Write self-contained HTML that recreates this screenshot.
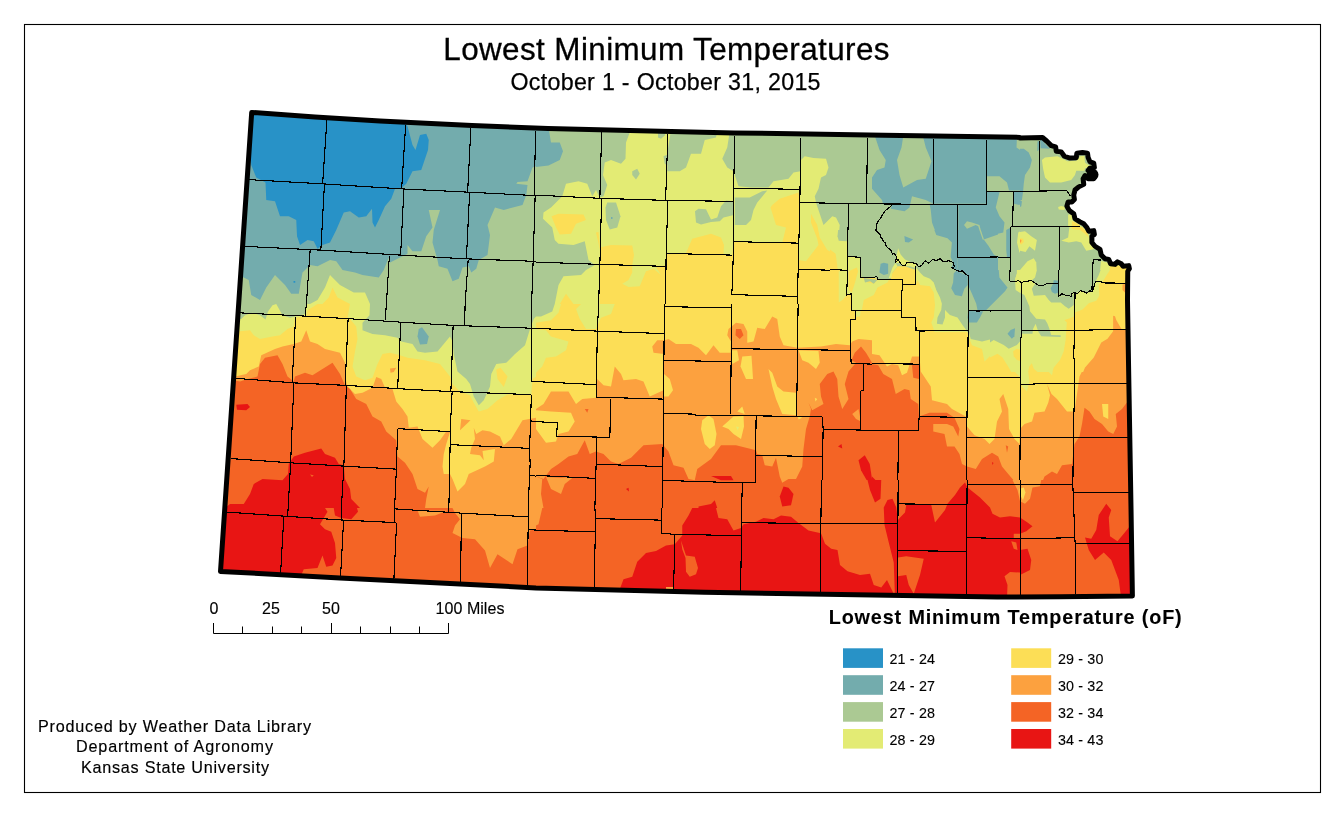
<!DOCTYPE html>
<html><head><meta charset="utf-8"><title>Lowest Minimum Temperatures</title>
<style>html,body{margin:0;padding:0;background:#fff}body{width:1344px;height:816px;overflow:hidden}svg{display:block}text{font-family:"Liberation Sans",Arial,sans-serif;fill:#000}</style>
</head><body>
<svg width="1344" height="816" viewBox="0 0 1344 816">
<rect x="0" y="0" width="1344" height="816" fill="#fff"/>
<defs><clipPath id="st"><path d="M251.7 112.4 L315 117 L380 121.1 L472 125.6 L548 128.5 L640 130.8 L734 132.9 L884 135.25 L1020 137.4 L1020 137.88 L1042.5 137.5 L1046.88 141.25 L1051.25 145.62 L1055.62 146.88 L1056.25 151.25 L1061.25 151.88 L1064.38 156.25 L1070 158.12 L1076.25 157.75 L1076.88 153.12 L1082.5 152.5 L1087.5 153.12 L1088.12 157.5 L1090 161.88 L1093.75 163.12 L1094.38 167.5 L1090 168.12 L1088.12 170.62 L1093.75 171.88 L1095 175 L1093.75 178.75 L1088.12 178.75 L1085 175.62 L1083.12 178.75 L1083.75 184.38 L1078.75 186.88 L1075 190 L1073.75 195 L1074.38 199.38 L1071.88 201.88 L1068.12 201.88 L1066.88 206.25 L1069.38 210.62 L1073.75 213.75 L1075 218.75 L1080 221.88 L1083.75 223.75 L1086.88 227.5 L1088.75 231.25 L1093.75 230.62 L1094.38 234.38 L1091.88 236.25 L1091.88 242.5 L1095 246.25 L1100 249.38 L1101.25 255 L1105 258.75 L1108.75 259.38 L1110.62 263.75 L1115 264.38 L1117.5 261.88 L1121.25 263.75 L1123.12 266.25 L1128.75 265.62 L1129.38 268.75 L1127.75 271.25 L1127.5 300 L1128.5 362 L1131 508 L1132.4 596 L1060 596.8 L997 597 L872 595 L704 592.25 L536 587.9 L340 577.9 L220.5 571.4 Z"/></clipPath>
<clipPath id="c0"><rect x="0" y="0" width="1344" height="816"/></clipPath>
<clipPath id="c1"><rect x="0" y="0" width="1344" height="816"/></clipPath>
<clipPath id="c2"><rect x="0" y="0" width="1344" height="816"/></clipPath>
<clipPath id="c3"><rect x="0" y="0" width="1344" height="816"/></clipPath>
<clipPath id="c4"><rect x="0" y="0" width="1344" height="816"/></clipPath>
<clipPath id="c5"><rect x="0" y="0" width="1344" height="816"/></clipPath>
<clipPath id="c6"><rect x="0" y="0" width="1344" height="816"/></clipPath>
<clipPath id="c7"><rect x="0" y="0" width="1344" height="816"/></clipPath>
<clipPath id="c8"><rect x="0" y="0" width="1344" height="816"/></clipPath>
<clipPath id="c9"><rect x="0" y="0" width="1344" height="816"/></clipPath>
<clipPath id="c10"><rect x="0" y="0" width="1344" height="816"/></clipPath>
<clipPath id="c11"><rect x="0" y="0" width="1344" height="832"/></clipPath>
<clipPath id="c12"><rect x="0" y="0" width="1344" height="816"/></clipPath>
</defs>
<g clip-path="url(#st)">
<g transform="translate(200 100) scale(0.25)"><g clip-path="url(#c0)">
<rect x="-2" y="-2" width="1348" height="820" fill="#73ACAD"/>
<polygon fill="#2892C7" points="200,45 822,95 830,105 850,180 862,200 880,140 905,135 915,160 912,200 885,280 850,285 825,335 808,350 780,355 765,395 740,425 715,480 700,510 690,490 688,435 665,465 635,470 600,445 575,450 545,520 520,570 490,580 470,595 455,565 430,560 400,580 388,545 385,480 355,465 320,465 300,405 265,400 262,330 225,310 205,260 190,60"/>
<polygon fill="#ABC993" points="140,700 175,710 195,720 205,780 240,800 265,750 300,700 340,740 365,775 395,775 410,690 440,660 470,665 520,640 545,645 570,680 620,690 650,700 715,710 735,680 755,630 760,650 800,630 830,615 830,580 850,605 885,605 905,545 930,510 915,440 960,440 935,520 930,570 950,640 955,665 990,675 1010,725 1035,715 1050,670 1075,665 1085,690 1105,675 1115,640 1150,620 1160,540 1150,500 1180,430 1215,440 1290,420 1305,380 1310,340 1265,335 1270,328 1310,325 1330,270 1344,265 1344,816 140,816"/>
<polygon fill="#E3EB74" points="440,816 470,800 500,750 520,700 560,740 615,770 660,770 680,816"/>
<polygon fill="#FCDE56" points="490,816 515,790 530,750 550,790 600,816"/>
<polygon fill="#2892C7" points="374,724 381,724 381,731 374,731"/>
<g transform="translate(.5 .5)" fill="none" stroke="#000" stroke-width="4.4" stroke-linejoin="round" shape-rendering="crispEdges">
<polyline points="507,80 490,335"/>
<polyline points="497,340 483,600"/>
<polyline points="822,100 806,355"/>
<polyline points="815,358 802,620"/>
<polyline points="1083,113 1070,368"/>
<polyline points="1078,372 1065,635"/>
<polyline points="1342,124 1336,382"/>
<polyline points="1340,384 1332,645"/>
<polyline points="1332,645 1326,816"/>
<polyline points="195,318 490,335 806,355 1070,368 1344,382"/>
<polyline points="178,585 483,600 802,620 1065,635 1344,645"/>
<polyline points="440,600 425,816"/>
<polyline points="757,622 745,816"/>
<polyline points="1072,640 1060,816"/>
</g>
</g></g>
<g transform="translate(536 100) scale(0.25)"><g clip-path="url(#c1)">
<rect x="-2" y="-2" width="1348" height="820" fill="#E3EB74"/>
<polygon fill="#ABC993" points="0,100 375,120 375,130 360,170 358,235 340,255 300,240 275,250 268,300 285,340 270,385 255,390 240,360 225,385 205,335 170,325 120,335 105,385 60,430 30,450 28,475 65,510 75,560 90,575 150,580 195,565 210,640 235,660 200,680 180,700 110,705 90,740 75,816 0,816"/>
<polygon fill="#73ACAD" points="0,100 50,110 60,170 95,170 108,205 95,240 50,262 0,268"/>
<polygon fill="#ABC993" points="488,125 520,125 515,142 500,155 488,150"/>
<polygon fill="#ABC993" points="510,225 527,218 527,262 515,255"/>
<polygon fill="#ABC993" points="540,120 527,200 525,285 575,285 600,270 620,215 660,215 675,160 720,150 725,125"/>
<polygon fill="#ABC993" points="775,125 765,190 745,235 765,270 790,285 800,285 800,125"/>
<polygon fill="#ABC993" points="795,125 1344,130 1344,708 1300,705 1300,630 1250,620 1245,565 1210,555 1215,500 1200,470 1185,465 1150,500 1130,440 1120,410 1115,385 1130,355 1140,310 1160,300 1170,270 1160,235 1110,232 1075,225 1060,240 1058,285 1030,290 1010,315 950,325 930,350 860,350 810,345 795,300"/>
<polygon fill="#ABC993" points="795,390 855,390 905,365 925,362 885,410 870,440 860,480 840,500 795,500"/>
<polygon fill="#ABC993" points="636,445 650,435 680,437 700,478 725,470 740,425 760,402 792,405 792,460 750,470 735,485 700,488 660,498 640,490"/>
<polygon fill="#ABC993" points="385,285 405,275 415,295 400,318 385,300"/>
<polygon fill="#ABC993" points="285,410 320,410 338,465 325,510 295,518 280,480 278,430"/>
<polygon fill="#73ACAD" points="300,468 306,468 306,476 300,476"/>
<polygon fill="#FCDE56" points="62,465 90,455 190,458 200,480 160,495 140,535 95,538 80,510"/>
<polygon fill="#FCDE56" points="945,420 975,395 1050,370 1056,410 1050,570 985,570 1000,510 960,500 938,430"/>
<polygon fill="#FCDE56" points="95,816 120,775 150,816"/>
<polygon fill="#FCDE56" points="240,530 250,528 256,590 300,580 385,582 392,620 385,660 440,668 500,665 520,660 520,615 600,612 625,555 700,535 740,550 752,580 750,615 785,620 790,568 1050,572 1050,640 1080,645 1130,580 1125,555 1100,490 1100,455 1125,500 1135,550 1165,600 1200,620 1210,675 1245,680 1250,740 1275,700 1290,670 1280,720 1262,770 1262,816 255,816 256,600"/>
<polygon fill="#E3EB74" points="385,660 440,668 480,668 500,700 470,675 440,685 415,745 370,748 345,735 370,720 385,690"/>
<g transform="translate(.5 .5)" fill="none" stroke="#000" stroke-width="4.4" stroke-linejoin="round" shape-rendering="crispEdges">
<polyline points="262,128 255,390"/>
<polyline points="262,395 255,655"/>
<polyline points="255,660 250,816"/>
<polyline points="527,137 518,400"/>
<polyline points="527,403 520,615 518,816"/>
<polyline points="795,145 790,350 790,565 785,740 782,780"/>
<polyline points="1058,150 1055,410 1048,680 1045,816"/>
<polyline points="1325,152 1322,415"/>
<polyline points="1250,417 1245,625 1245,680 1242,780 1262,775 1262,816"/>
<polyline points="1300,630 1298,708 1344,708"/>
<polyline points="0,380 262,393 518,401 790,405"/>
<polyline points="790,352 1055,357"/>
<polyline points="1055,410 1344,415"/>
<polyline points="0,648 255,657 520,665"/>
<polyline points="520,613 785,620"/>
<polyline points="788,566 1050,572"/>
<polyline points="1050,677 1245,682"/>
<polyline points="1245,625 1300,630"/>
<polyline points="785,778 1045,785"/>
</g>
</g></g>
<g transform="translate(872 100) scale(0.25)"><g clip-path="url(#c2)">
<rect x="-2" y="-2" width="1348" height="820" fill="#ABC993"/>
<polygon fill="#73ACAD" points="245,140 458,140 458,415 245,415"/>
<polygon fill="#73ACAD" points="458,140 580,145 578,190 600,205 615,195 635,235 625,280 605,305 605,362 548,362 540,330 510,305 458,305"/>
<polygon fill="#73ACAD" points="668,150 700,160 725,195 670,195"/>
<polygon fill="#73ACAD" points="565,364 605,364 600,400 590,420 568,415"/>
<polygon fill="#73ACAD" points="458,368 510,368 495,430 510,465 530,490 525,530 460,545 445,560 430,500 400,490 380,485 368,500 380,515 415,500 425,505 440,555 490,615 510,628 345,628 345,418 458,418"/>
<polygon fill="#73ACAD" points="537,520 555,510 553,628 540,628 537,600"/>
<polygon fill="#73ACAD" points="230,415 342,418 342,630 320,640 318,600 300,570 285,540 255,530 240,490 235,440"/>
<polygon fill="#73ACAD" points="345,628 500,630 495,680 515,730 535,750 500,780 450,816 415,816 385,760 385,700 345,680"/>
<polygon fill="#73ACAD" points="340,690 380,700 385,760 360,785 320,770 320,740"/>
<polygon fill="#73ACAD" points="10,140 125,145 118,190 100,240 110,300 125,350 180,320 215,315 238,245 215,190 205,150 245,150 245,415 215,400 160,385 150,430 130,445 75,435 80,418 45,418 40,400 0,355 0,310 20,280 50,270 55,240 30,200"/>
<polygon fill="#73ACAD" points="130,545 165,555 135,572"/>
<polygon fill="#73ACAD" points="35,655 60,650 65,690 35,700 28,680"/>
<polygon fill="#73ACAD" points="720,720 745,722 745,775 722,770"/>
<polygon fill="#E3EB74" points="680,235 700,225 760,222 800,245 850,250 880,270 850,290 820,280 800,320 760,330 710,325 685,290"/>
<polygon fill="#E3EB74" points="790,460 830,500 860,520 880,560 910,620 880,600 850,600 830,565 790,570 760,560 790,540 800,505 780,480"/>
<polygon fill="#FCDE56" points="745,425 770,425 775,440 750,440"/>
<polygon fill="#FCDE56" points="795,478 835,502 800,502"/>
<polygon fill="#E3EB74" points="585,530 600,520 630,535 655,560 650,600 620,595 590,610 580,570"/>
<polygon fill="#FCDE56" points="592,550 605,545 610,570 595,578"/>
<polygon fill="#E3EB74" points="620,650 640,635 658,640 660,700 640,730 600,725 570,700 590,685"/>
<polygon fill="#E3EB74" points="915,640 945,650 1030,670 1030,816 812,816 815,785 850,775 885,760 900,720 918,690"/>
<polygon fill="#FCDE56" points="950,650 1025,670 1025,816 905,816 900,770 895,730 940,700"/>
<polygon fill="#FCA13F" points="1000,735 1020,735 1020,780 1000,775"/>
<polygon fill="#E3EB74" points="570,725 600,720 640,740 700,745 720,775 780,780 808,790 808,816 600,816 598,730"/>
<polygon fill="#FCDE56" points="610,770 640,760 650,816 620,816"/>
<polygon fill="#ABC993" points="640,745 700,745 725,780 760,790 760,816 680,816 650,770"/>
<polygon fill="#E3EB74" points="65,700 90,640 100,610 120,630 175,650 200,700 245,725 300,816 0,816 0,705"/>
<polygon fill="#FCDE56" points="75,690 95,650 110,640 170,660 172,735 240,745 270,790 280,816 0,816 0,715 50,715"/>
<g transform="translate(.5 .5)" fill="none" stroke="#000" stroke-width="4.4" stroke-linejoin="round" shape-rendering="crispEdges">
<polyline points="245,155 245,415"/>
<polyline points="458,158 458,415"/>
<polyline points="668,165 668,362"/>
<polyline points="0,415 458,418"/>
<polyline points="458,365 780,362 795,380"/>
<polyline points="565,368 562,505"/>
<polyline points="555,507 840,507"/>
<polyline points="555,507 552,725"/>
<polyline points="342,420 342,630 553,628"/>
<polyline points="748,507 745,780"/>
<polyline points="385,700 385,816"/>
<polyline points="598,725 598,816"/>
<polyline points="808,780 808,816"/>
<polyline points="880,640 875,760"/>
<polyline points="880,640 915,640"/>
<polyline points="895,730 1015,735"/>
<polyline points="120,715 118,816"/>
<polyline points="0,715 120,717"/>
<polyline points="120,737 172,737 175,660"/>
<polyline points="80,420 65,432 50,445 35,470 20,490 15,520 25,540 40,560 55,585 70,600 80,615 95,625 100,650 115,648 130,660 150,650 175,655 195,665 205,650 215,645 228,650 240,640 255,645 270,635 285,645 300,640 315,642 325,650 330,670 340,675 350,685 365,688 385,700"/>
<polyline points="552,725 575,720 600,722 620,730 640,728 660,738 680,740 700,735 720,735 745,735"/>
<polyline points="745,780 770,772 790,775 810,768 830,770 850,762 875,760 885,745 895,730"/>
</g>
</g></g>
<g transform="translate(200 304) scale(0.25)"><g clip-path="url(#c3)">
<rect x="-2" y="-2" width="1348" height="820" fill="#ABC993"/>
<polygon fill="#E3EB74" points="100,65 165,60 180,45 210,35 240,45 262,62 272,30 290,5 305,0 315,18 330,45 360,55 400,45 420,40 425,0 680,0 678,45 650,75 650,105 690,120 740,125 790,135 805,150 850,160 870,190 900,195 950,190 975,160 1000,130 1010,150 1015,200 1030,270 1065,300 1080,320 1095,370 1115,405 1135,385 1160,330 1165,280 1185,240 1225,235 1260,200 1300,165 1320,100 1335,60 1344,50 1344,816 100,816"/>
<polygon fill="#FCDE56" points="100,112 150,110 200,105 215,125 240,140 290,130 320,125 350,100 375,90 380,55 425,48 430,25 470,0 600,0 590,55 600,60 625,90 630,140 620,190 610,250 625,290 660,305 690,295 710,240 730,200 760,195 800,205 830,215 900,225 960,240 1000,290 1010,320 1040,350 1080,365 1095,395 1115,430 1150,420 1190,385 1230,362 1325,362 1330,300 1344,290 1344,816 100,816"/>
<polygon fill="#FCDE56" points="1185,262 1202,255 1230,290 1215,332 1190,300"/>
<polygon fill="#FCA13F" points="100,292 140,290 185,280 200,265 235,250 245,205 300,180 330,170 375,160 405,150 425,105 440,150 470,160 500,180 560,195 580,235 582,300 590,330 620,360 650,355 690,335 705,292 725,300 740,335 770,340 785,390 810,420 830,450 835,495 870,490 890,540 930,575 960,545 985,510 1000,512 985,560 975,600 970,650 975,680 1000,680 1010,700 1030,750 1060,720 1075,680 1140,650 1175,630 1180,580 1215,565 1245,540 1290,465 1344,455 1344,816 100,816"/>
<polygon fill="#FCA13F" points="1095,495 1105,520 1130,505 1160,510 1200,530 1215,565 1180,580 1130,588 1135,625 1120,605 1080,600 1085,575 1100,540"/>
<polygon fill="#FCA13F" points="760,258 785,255 775,272 762,275"/>
<polygon fill="#FCA13F" points="1045,460 1082,465 1040,505"/>
<polygon fill="#F46425" points="100,305 135,305 160,310 190,300 230,290 240,240 260,215 310,205 330,240 350,290 375,310 380,290 420,275 450,285 490,260 530,235 560,280 580,325 600,340 625,380 665,400 690,450 725,470 745,510 785,545 790,610 820,635 850,680 870,740 900,755 915,730 905,780 900,816 100,816"/>
<polygon fill="#E81514" points="355,640 375,610 420,595 485,578 500,600 540,615 555,640 575,645 580,700 600,740 605,780 640,816 100,816 120,800 175,800 200,760 215,720 250,700 330,705 352,680"/>
<polygon fill="#E81514" points="145,403 190,400 200,412 185,425 148,423"/>
<polygon fill="#F46425" points="440,682 455,685 448,692"/>
<polygon fill="#73ACAD" points="875,100 888,93 915,130 908,160 880,162 870,130"/>
<g transform="translate(.5 .5)" fill="none" stroke="#000" stroke-width="4.4" stroke-linejoin="round" shape-rendering="crispEdges">
<polyline points="160,35 420,48 590,58 800,72 1010,85 1344,97"/>
<polyline points="145,297 375,315 585,325 790,338 1005,350 1325,362"/>
<polyline points="125,618 365,635 575,648 785,660"/>
<polyline points="790,498 1000,510"/>
<polyline points="1000,562 1320,577"/>
<polyline points="425,0 420,48"/>
<polyline points="745,0 740,65"/>
<polyline points="1060,0 1058,85"/>
<polyline points="382,50 368,315"/>
<polyline points="592,58 580,325"/>
<polyline points="803,72 790,338"/>
<polyline points="1012,85 1003,350"/>
<polyline points="375,315 362,635"/>
<polyline points="585,325 575,648"/>
<polyline points="790,498 785,660"/>
<polyline points="1008,350 1000,510 1000,562 995,816"/>
<polyline points="1326,0 1325,97 1325,310 1344,310"/>
<polyline points="1325,365 1318,577 1320,640"/>
<polyline points="1322,467 1344,470"/>
<polyline points="1317,685 1344,688"/>
<polyline points="362,635 352,816"/>
<polyline points="575,648 565,816"/>
<polyline points="785,660 778,816"/>
<polyline points="1320,640 1312,816"/>
</g>
</g></g>
<g transform="translate(536 304) scale(0.25)"><g clip-path="url(#c4)">
<rect x="-2" y="-2" width="1348" height="820" fill="#FCDE56"/>
<polygon fill="#E3EB74" points="0,0 100,0 90,35 60,65 30,70 0,75"/>
<polygon fill="#ABC993" points="0,0 75,0 65,30 20,50 0,50"/>
<polygon fill="#E3EB74" points="180,0 315,0 300,40 260,55 240,100 200,100 175,60 160,20"/>
<polygon fill="#E3EB74" points="0,100 40,105 60,130 130,150 120,185 80,210 40,215 25,250 0,275"/>
<polygon fill="#FCA13F" points="0,420 30,400 60,350 130,350 160,400 185,380 240,375 245,300 270,325 300,330 315,250 340,280 350,305 400,300 430,310 455,370 510,345 512,200 470,195 465,170 485,145 515,145 530,140 560,160 620,160 650,175 680,205 710,165 735,195 778,195 780,150 765,125 770,100 800,75 830,80 845,110 845,155 870,150 885,95 915,100 945,50 965,60 975,130 990,165 1045,175 1140,170 1200,160 1255,165 1265,150 1290,140 1344,145 1344,816 0,816"/>
<polygon fill="#FCDE56" points="0,425 60,430 140,435 155,470 130,510 90,520 80,550 40,555 0,500"/>
<polygon fill="#FCDE56" points="512,280 535,300 548,345 530,370 512,370"/>
<polygon fill="#FCDE56" points="825,210 862,207 868,300 840,300 818,250"/>
<polygon fill="#FCDE56" points="780,185 805,185 812,225 785,240"/>
<polygon fill="#FCDE56" points="930,260 945,275 965,330 990,350 1040,355 1040,445 985,440 960,380 945,330"/>
<polygon fill="#FCDE56" points="1050,185 1130,188 1135,235 1120,260 1090,235 1065,225"/>
<polygon fill="#FCDE56" points="665,465 690,445 710,460 722,520 715,565 695,580 675,560 660,500"/>
<polygon fill="#FCDE56" points="745,490 790,450 830,448 832,490 820,540 790,520 770,500"/>
<polygon fill="#E3EB74" points="800,490 812,492 806,505"/>
<polygon fill="#FCDE56" points="805,430 825,410 835,440"/>
<polygon fill="#FCA13F" points="905,605 950,608 945,640 920,650"/>
<polygon fill="#FCDE56" points="1045,445 1065,455 1050,462"/>
<polygon fill="#FCDE56" points="1115,375 1125,380 1118,390"/>
<polygon fill="#F46425" points="0,690 30,700 60,660 90,640 130,610 165,600 195,545 215,600 240,590 270,600 300,630 330,640 380,615 430,565 505,560 530,590 550,645 590,655 610,700 635,705 645,660 700,620 740,565 800,565 880,585 885,600 905,605 915,645 945,650 960,615 975,690 985,715 1010,700 1040,700 1065,650 1070,580 1080,500 1095,450 1100,420 1090,395 1105,425 1150,400 1140,370 1135,320 1165,280 1190,270 1205,300 1210,370 1225,420 1250,380 1235,320 1250,270 1280,235 1262,225 1275,195 1300,170 1320,195 1344,235 1344,816 0,816"/>
<polygon fill="#FCA13F" points="40,692 60,740 100,760 115,720 150,692 100,695"/>
<polygon fill="#FCA13F" points="0,690 25,700 20,760 30,816 0,816"/>
<polygon fill="#FCA13F" points="1265,440 1290,420 1300,470 1280,460"/>
<polygon fill="#E81514" points="700,688 780,688 790,705 740,705"/>
<polygon fill="#E81514" points="975,770 990,730 1010,735 1030,760 1020,805 985,810"/>
<polygon fill="#E81514" points="1290,625 1315,605 1335,640 1344,700 1344,740 1320,700 1300,665"/>
<polygon fill="#E81514" points="1208,570 1222,560 1225,578"/>
<polygon fill="#E81514" points="360,740 370,735 372,750"/>
<polygon fill="#E81514" points="650,810 700,800 715,785 725,816 650,816"/>
<polygon fill="#F46425" points="800,100 820,100 830,125 815,140 798,125"/>
<polygon fill="#F46425" points="195,420 210,420 205,435"/>
<g transform="translate(.5 .5)" fill="none" stroke="#000" stroke-width="4.4" stroke-linejoin="round" shape-rendering="crispEdges">
<polyline points="0,97 245,108 512,118"/>
<polyline points="0,310 240,322"/>
<polyline points="240,372 510,380"/>
<polyline points="250,0 245,108 240,372"/>
<polyline points="515,0 512,118 510,380 505,816"/>
<polyline points="515,10 780,15"/>
<polyline points="782,0 778,440"/>
<polyline points="512,225 778,230"/>
<polyline points="510,437 635,440 640,447 880,447 1145,450"/>
<polyline points="780,178 1045,182 1258,185"/>
<polyline points="1048,0 1042,447"/>
<polyline points="1265,0 1265,25 1344,22"/>
<polyline points="1278,25 1275,60 1258,62 1258,185 1260,237 1344,240"/>
<polyline points="1310,240 1308,345 1298,348 1298,503"/>
<polyline points="1145,450 1148,500 1344,505"/>
<polyline points="1148,500 1143,816"/>
<polyline points="880,447 878,605 1145,610"/>
<polyline points="878,605 878,712"/>
<polyline points="505,705 825,715 878,712"/>
<polyline points="825,715 822,816"/>
<polyline points="0,470 85,475 82,528 295,533 298,380"/>
<polyline points="240,535 240,640 505,650"/>
<polyline points="240,640 235,816"/>
<polyline points="0,685 235,697"/>
</g>
</g></g>
<g transform="translate(872 304) scale(0.25)"><g clip-path="url(#c5)">
<rect x="-2" y="-2" width="1348" height="820" fill="#FCDE56"/>
<polygon fill="#E3EB74" points="240,0 245,60 260,80 290,60 300,90 380,100 385,130 400,165 440,180 450,230 480,200 510,200 540,240 560,260 590,290 600,330 620,350 630,310 625,270 640,235 665,260 700,265 720,285 730,240 760,185 775,120 775,60 810,50 815,30 860,0"/>
<polygon fill="#ABC993" points="275,0 300,30 340,40 360,80 385,105 395,140 440,150 480,140 510,150 540,170 570,175 590,140 600,102 650,92 700,127 755,127 710,112 690,72 655,62 650,32 640,0"/>
<polygon fill="#ABC993" points="760,0 805,0 795,15 770,12"/>
<polygon fill="#73ACAD" points="385,50 430,45 440,20 470,10 480,0 420,0 415,25 385,30"/>
<polygon fill="#73ACAD" points="545,110 570,95 572,125 555,140"/>
<polygon fill="#73ACAD" points="690,119 755,123 755,131 690,128"/>
<polygon fill="#FCA13F" points="0,200 30,205 50,235 60,250 80,240 105,245 120,285 140,275 160,210 190,210 195,270 235,330 240,385 300,400 320,420 375,450 380,490 410,525 450,540 470,560 490,540 500,470 520,430 510,380 525,360 545,420 548,500 570,540 590,560 592,500 610,480 640,470 650,435 690,430 705,395 712,365 700,320 718,360 740,380 780,430 810,430 830,290 850,250 900,220 910,180 930,150 960,130 975,105 965,60 980,65 1005,95 1030,100 1040,816 0,816"/>
<polygon fill="#FCDE56" points="920,400 945,400 945,460 925,450"/>
<polygon fill="#FCDE56" points="595,735 610,730 612,775 598,780"/>
<polygon fill="#F46425" points="0,240 25,245 45,280 80,300 95,360 130,340 150,345 155,380 185,400 188,450 230,435 300,435 330,455 350,500 345,530 325,490 300,480 245,480 245,510 290,520 300,570 330,570 350,600 360,640 380,650 415,660 440,620 480,595 505,610 520,650 545,680 575,715 590,720 680,715 690,690 720,670 740,680 760,645 800,640 810,560 830,530 840,480 850,415 870,430 890,460 920,480 945,510 965,520 980,490 975,440 1000,420 1030,380 1040,816 0,816"/>
<polygon fill="#F46425" points="160,245 188,240 188,300 165,295"/>
<polygon fill="#F46425" points="535,565 545,570 540,595"/>
<polygon fill="#E81514" points="480,632 486,636 482,644"/>
<polygon fill="#E81514" points="0,690 20,710 35,750 30,790 60,780 85,790 90,816 0,816"/>
<polygon fill="#E81514" points="140,795 190,800 240,790 300,780 330,750 350,715 380,740 420,775 460,800 475,816 100,816 105,798"/>
<polygon fill="#E81514" points="930,805 945,798 960,816 925,816"/>
<g transform="translate(.5 .5)" fill="none" stroke="#000" stroke-width="4.4" stroke-linejoin="round" shape-rendering="crispEdges">
<polyline points="0,22 118,25 118,52 175,55 178,105 385,103"/>
<polyline points="118,0 118,25"/>
<polyline points="385,0 385,25 598,25"/>
<polyline points="385,25 382,295 378,535 378,816"/>
<polyline points="598,0 598,105 1015,100"/>
<polyline points="598,105 592,320 592,535 590,816"/>
<polyline points="810,0 808,100 810,318 805,535 802,816"/>
<polyline points="382,293 592,293"/>
<polyline points="595,322 680,318 1020,318"/>
<polyline points="190,105 188,450 378,453"/>
<polyline points="0,238 188,240"/>
<polyline points="0,505 185,505 188,450"/>
<polyline points="105,508 102,816"/>
<polyline points="378,535 1022,535"/>
<polyline points="378,722 800,720"/>
<polyline points="805,757 1025,752"/>
<polyline points="102,798 378,802"/>
</g>
</g></g>
<g transform="translate(200 508) scale(0.25)"><g clip-path="url(#c6)">
<rect x="-2" y="-2" width="1348" height="820" fill="#F46425"/>
<polygon fill="#E81514" points="60,0 500,0 510,15 480,65 500,85 525,95 540,140 545,200 530,230 505,235 490,190 470,240 415,245 400,280 60,260"/>
<polygon fill="#E81514" points="535,0 540,30 565,40 605,45 632,15 628,0"/>
<polygon fill="#FCA13F" points="870,10 990,10 940,30 880,35"/>
<polygon fill="#FCA13F" points="1010,0 1344,0 1344,85 1320,90 1310,150 1270,165 1250,225 1190,185 1160,240 1140,170 1100,125 1050,120 1010,100 1020,70 1040,45 1020,20"/>
<g transform="translate(.5 .5)" fill="none" stroke="#000" stroke-width="4.4" stroke-linejoin="round" shape-rendering="crispEdges">
<polyline points="95,15 335,32 575,48 785,58"/>
<polyline points="352,0 350,33"/>
<polyline points="335,32 322,258"/>
<polyline points="566,0 565,47"/>
<polyline points="574,48 562,270"/>
<polyline points="779,0 778,57"/>
<polyline points="786,58 775,285"/>
<polyline points="778,3 1045,20 1314,35"/>
<polyline points="995,0 995,15"/>
<polyline points="1045,20 1042,300"/>
<polyline points="1313,0 1314,35 1312,85 1308,320"/>
<polyline points="1312,85 1344,88"/>
</g>
</g></g>
<g transform="translate(536 508) scale(0.25)"><g clip-path="url(#c7)">
<rect x="-2" y="-2" width="1348" height="820" fill="#F46425"/>
<polygon fill="#FCA13F" points="0,0 25,0 10,65 0,70"/>
<polygon fill="#E81514" points="335,325 350,285 385,275 405,215 440,180 480,172 520,150 555,145 585,110 585,70 610,30 625,0 720,0 730,40 765,45 790,90 820,80 830,65 880,55 910,40 950,45 980,30 1020,35 1050,60 1090,90 1135,100 1155,125 1165,160 1210,155 1220,230 1250,245 1310,255 1344,270 1344,360 335,360"/>
<polygon fill="#F46425" points="580,130 600,190 635,195 648,240 640,265 615,275 600,255 598,200 585,165"/>
<polygon fill="#FCA13F" points="520,316 548,316 548,326 520,324"/>
<g transform="translate(.5 .5)" fill="none" stroke="#000" stroke-width="4.4" stroke-linejoin="round" shape-rendering="crispEdges">
<polyline points="0,88 235,95"/>
<polyline points="235,0 238,42 232,318"/>
<polyline points="238,42 500,48"/>
<polyline points="500,0 500,100 555,105 550,325"/>
<polyline points="555,105 820,110"/>
<polyline points="822,0 822,58 818,330"/>
<polyline points="822,58 1143,62 1344,62"/>
<polyline points="1143,0 1143,62 1138,335"/>
</g>
</g></g>
<g transform="translate(820 480) scale(0.25)"><g clip-path="url(#c8)">
<rect x="-2" y="-2" width="1348" height="820" fill="#F46425"/>
<polygon fill="#E81514" points="190,0 245,0 242,75 220,90 200,40"/>
<polygon fill="#E81514" points="0,215 5,215 20,255 45,275 70,280 80,340 110,365 160,380 200,375 215,420 245,430 268,400 290,445 300,470 0,470"/>
<polygon fill="#E81514" points="255,110 270,80 290,75 305,110 312,170 312,470 300,470 295,330 275,250 258,180"/>
<polygon fill="#E81514" points="312,160 320,150 340,130 345,100 445,100 460,170 500,120 510,95 540,60 560,30 580,10 590,30 640,70 680,110 690,135 720,150 760,145 800,150 830,170 850,185 825,205 800,215 775,215 775,235 800,232 800,280 830,275 845,320 840,360 800,380 800,370 760,368 738,385 750,420 748,475 312,475"/>
<polygon fill="#F46425" points="312,310 345,305 415,315 400,380 375,455 355,420 345,380 312,385"/>
<polygon fill="#F46425" points="765,245 785,250 790,280 775,275"/>
<polygon fill="#E81514" points="1060,230 1085,235 1105,200 1115,140 1145,95 1165,120 1155,150 1160,225 1190,245 1215,215 1235,190 1260,190 1260,475 1205,475 1195,400 1165,320 1135,290 1100,320 1075,280"/>
<polygon fill="#FCA13F" points="770,0 885,0 880,25 850,30 840,75 820,95 800,85 790,40"/>
<polygon fill="#FCDE56" points="798,35 815,30 822,50 812,80 800,60"/>
<g transform="translate(.5 .5)" fill="none" stroke="#000" stroke-width="4.4" stroke-linejoin="round" shape-rendering="crispEdges">
<polyline points="0,175 310,175"/>
<polyline points="5,0 0,455"/>
<polyline points="312,0 310,460"/>
<polyline points="312,95 585,98"/>
<polyline points="312,282 585,285"/>
<polyline points="588,0 585,460"/>
<polyline points="588,18 800,18 1010,18"/>
<polyline points="800,0 800,460"/>
<polyline points="588,230 800,235 1020,230"/>
<polyline points="1010,0 1012,50 1235,48"/>
<polyline points="1012,50 1020,255 1022,455"/>
<polyline points="1020,255 1240,252"/>
</g>
</g></g>
<g transform="translate(830 230) scale(0.125)"><g clip-path="url(#c9)">
<rect x="-2" y="-2" width="1348" height="820" fill="#ABC993"/>
<polygon fill="#E3EB74" points="0,0 140,0 140,330 0,330"/>
<polygon fill="#ABC993" points="65,0 135,0 135,90 70,85 60,50"/>
<polygon fill="#FCDE56" points="0,155 45,190 60,300 65,330 0,330"/>
<polygon fill="#FCDE56" points="0,318 140,322 135,520 172,510 172,642 205,645 205,715 165,718 165,816 0,816"/>
<polygon fill="#E3EB74" points="70,330 138,325 135,520 100,560 70,580"/>
<polygon fill="#FCDE56" points="245,378 355,380 380,395 580,395 580,435 688,435 688,816 165,816 165,718 205,715 205,645 172,642 172,510 140,515 140,212 245,218"/>
<polygon fill="#E3EB74" points="143,214 245,220 250,380 300,420 350,430 380,400 470,400 460,420 380,460 350,520 270,560 255,640 175,640 172,510 138,520 140,320"/>
<polygon fill="#FCDE56" points="150,330 215,300 225,330 200,420 175,500 150,480"/>
<polygon fill="#E3EB74" points="205,650 245,650 240,690 210,695"/>
<polygon fill="#ABC993" points="270,383 380,398 350,430 320,410 280,420"/>
<polygon fill="#FCDE56" points="500,340 540,290 600,290 688,320 688,437 580,437 580,397 490,397 485,370"/>
<polygon fill="#E3EB74" points="480,355 500,300 525,262 540,290 500,340 490,382 470,385"/>
<polygon fill="#E3EB74" points="545,145 565,195 600,235 650,258 690,272 688,305 640,290 600,290 560,265 525,262 530,215"/>
<polygon fill="#73ACAD" points="405,270 430,262 465,270 465,350 430,360 395,340"/>
<polygon fill="#73ACAD" points="595,48 665,75 630,100 600,95"/>
<polygon fill="#73ACAD" points="835,0 1020,0 1020,330 1010,320 975,295 985,260 965,215 975,100 940,65 850,40"/>
<polygon fill="#73ACAD" points="1020,0 1344,0 1344,560 1290,600 1250,640 1180,640 1170,590 1140,520 1105,440 1105,365 1080,350 1045,335 1020,325"/>
<polygon fill="#ABC993" points="1230,75 1344,35 1344,215 1310,195 1270,130"/>
<polygon fill="#ABC993" points="1195,0 1207,0 1232,75 1222,78"/>
<polygon fill="#73ACAD" points="1105,648 1225,650 1200,700 1175,740 1110,740 1100,700"/>
<polygon fill="#73ACAD" points="990,345 1010,325 1102,365 1102,440 1075,470 1055,530 1000,520 970,465 985,420"/>
<polygon fill="#E3EB74" points="688,300 720,340 750,370 800,390 830,420 850,480 880,540 895,590 890,640 860,700 855,750 900,755 920,700 920,640 960,680 1020,700 1060,760 1090,800 1100,816 688,816"/>
<polygon fill="#FCDE56" points="575,435 688,435 700,400 720,440 800,450 830,500 840,600 830,700 810,740 830,795 835,816 688,816 688,700 572,698"/>
<g transform="translate(.5 .5)" fill="none" stroke="#000" stroke-width="8.8" stroke-linejoin="round" shape-rendering="crispEdges">
<polyline points="140,0 140,320 135,460 132,520 170,510 172,640 205,645 205,715 165,718 165,816"/>
<polyline points="0,315 135,322"/>
<polyline points="145,212 245,218 245,378 355,380 365,372 375,372 380,395 580,395 580,435 685,435 685,290"/>
<polyline points="580,435 572,520 572,640 172,642"/>
<polyline points="572,640 572,698 685,700 688,805 715,808 1105,800"/>
<polyline points="365,0 395,30 405,45 400,55 420,70 425,90 440,100 445,120 460,140 475,150 490,165 500,195 510,185 530,210 525,260 545,235 560,262 575,280 600,285 615,260 650,258 690,270 710,295 735,280 760,245 790,265 820,235 850,245 880,230 910,255 950,245 985,260 995,295 970,300 1010,320 1045,335 1055,325 1080,350 1105,365 1105,816"/>
<polyline points="1020,0 1020,220 1344,215"/>
<polyline points="1105,640 1180,648 1344,640"/>
</g>
</g></g>
<g transform="translate(1020 125) scale(0.125)"><g clip-path="url(#c10)">
<rect x="-2" y="-2" width="1348" height="820" fill="#ABC993"/>
<polygon fill="#73ACAD" points="0,190 30,190 70,220 95,280 80,340 40,400 30,470 25,530 10,640 0,660"/>
<polygon fill="#73ACAD" points="140,130 155,130 150,200 138,210"/>
<polygon fill="#73ACAD" points="160,100 200,150 240,190 165,185"/>
<polygon fill="#E3EB74" points="175,280 200,260 300,250 340,270 380,290 450,285 480,250 515,245 520,300 545,320 575,330 540,340 520,345 515,365 450,365 440,400 410,440 330,460 240,460 200,420 185,350"/>
<polygon fill="#E3EB74" points="305,655 330,648 360,655 355,680 310,675"/>
<polygon fill="#E3EB74" points="385,715 420,720 420,816 385,816"/>
<polygon fill="#FCDE56" points="415,770 440,775 480,800 480,816 415,816"/>
<g transform="translate(.5 .5)" fill="none" stroke="#000" stroke-width="8.8" stroke-linejoin="round" shape-rendering="crispEdges">
<polyline points="155,125 155,528"/>
<polyline points="0,530 155,528 375,525 405,570"/>
<polyline points="185,525 185,535"/>
</g>
</g></g>
<g transform="translate(1020 200) scale(0.125)"><g clip-path="url(#c11)">
<rect x="-2" y="-2" width="1348" height="836" fill="#ABC993"/>
<polygon fill="#73ACAD" points="0,0 15,10 10,50 0,55"/>
<polygon fill="#E3EB74" points="305,55 330,48 360,55 355,80 310,75"/>
<polygon fill="#E3EB74" points="385,115 420,120 420,160 450,190 500,215 535,250 555,290 560,350 600,390 560,400 530,405 490,340 450,330 390,340 330,325 385,300 395,215 385,210"/>
<polygon fill="#FCDE56" points="415,170 440,175 480,200 480,210 415,210"/>
<polygon fill="#FCDE56" points="415,215 500,218 535,260 550,300 520,270 480,240 415,230"/>
<polygon fill="#E3EB74" points="0,255 40,250 90,290 135,320 120,405 75,370 45,415 0,405"/>
<polygon fill="#FCDE56" points="0,305 25,310 30,335 10,355 0,350"/>
<polygon fill="#FCA13F" points="0,315 12,320 8,340 0,340"/>
<polygon fill="#E3EB74" points="0,560 60,490 110,465 130,500 135,580 110,640 60,650 0,660"/>
<polygon fill="#73ACAD" points="265,645 300,640 305,670 335,690 320,730 305,750 270,745 245,710"/>
<polygon fill="#E3EB74" points="648,488 700,500 870,540 870,832 440,832 440,755 480,745 540,750 580,720 600,660 625,620 640,570"/>
<polygon fill="#FCDE56" points="720,530 790,525 870,550 870,832 635,832 640,700 660,640 680,610 715,580"/>
<polygon fill="#FCA13F" points="820,675 845,670 845,750 820,720"/>
<polygon fill="#E3EB74" points="0,650 60,645 100,670 90,720 105,760 200,770 240,832 0,832"/>
<polygon fill="#FCDE56" points="20,832 15,760 40,780 50,832"/>
<polygon fill="#E3EB74" points="200,770 310,775 310,832 200,832"/>
<g transform="translate(.5 .5)" fill="none" stroke="#000" stroke-width="8.8" stroke-linejoin="round" shape-rendering="crispEdges">
<polyline points="0,210 310,212 480,210"/>
<polyline points="315,215 318,560 308,570 308,770"/>
<polyline points="585,480 580,560 572,700"/>
<polyline points="585,478 650,480"/>
<polyline points="0,655 30,650 60,640 90,650 120,670 150,685 190,680 215,668 300,665"/>
<polyline points="308,745 340,750 370,760 400,770 410,745 435,742 440,832"/>
<polyline points="440,745 470,730 500,725 520,740 550,735 570,720 590,690 600,660 620,645 650,650 680,662 840,665"/>
<polyline points="0,650 15,655 15,832"/>
</g>
</g></g>
<g transform="translate(990 270) scale(0.125)"><g clip-path="url(#c12)">
<rect x="-2" y="-2" width="1348" height="820" fill="#E3EB74"/>
<polygon fill="#ABC993" points="0,0 250,0 250,560 215,600 150,630 110,600 30,560 0,580"/>
<polygon fill="#73ACAD" points="0,0 70,0 75,60 140,140 120,170 70,220 0,290"/>
<polygon fill="#E3EB74" points="250,0 215,30 200,75 205,160 245,185 250,85"/>
<polygon fill="#E3EB74" points="215,0 375,0 360,60 330,85 250,90 200,75 215,30"/>
<polygon fill="#73ACAD" points="140,510 165,480 200,465 195,530 175,550"/>
<polygon fill="#FCDE56" points="0,700 60,670 100,700 150,780 170,816 0,816"/>
<polygon fill="#FCDE56" points="185,650 215,630 250,640 250,730 215,720 190,690"/>
<polygon fill="#ABC993" points="375,0 545,0 545,210 640,215 670,190 670,280 630,310 600,290 565,260 490,260 470,240 440,200 350,205 335,150 360,110 330,85 360,60"/>
<polygon fill="#73ACAD" points="485,145 505,110 510,80 545,85 548,110 575,130 565,165 548,180 520,190 495,175"/>
<polygon fill="#ABC993" points="255,190 275,200 315,290 320,330 370,390 440,395 460,430 475,470 490,520 565,522 565,535 410,530 385,490 365,430 345,470 340,510 255,510"/>
<polygon fill="#FCDE56" points="595,400 640,385 675,370 675,480 610,480 615,420"/>
<polygon fill="#FCDE56" points="610,480 675,480 675,816 500,816 510,780 560,720 590,650 605,560"/>
<polygon fill="#FCDE56" points="305,816 315,770 335,745 350,790 380,816"/>
<polygon fill="#ABC993" points="545,0 885,0 870,40 850,80 830,120 820,170 790,180 760,185 735,165 700,175 690,195 670,190 660,180 640,215 545,210"/>
<polygon fill="#FCDE56" points="960,0 1120,0 1120,816 745,816 760,780 830,700 860,640 890,580 940,550 985,490 985,480 675,480 678,340 740,315 790,265 850,245 875,205 870,115 900,95 930,45"/>
<polygon fill="#FCDE56" points="670,478 990,478 990,490 940,550 890,580 860,640 830,700 760,780 745,816 670,816"/>
<polygon fill="#FCA13F" points="985,365 1000,370 1010,400 1050,470 1085,475 1120,470 1120,816 745,816 760,780 830,700 860,640 890,580 940,550 985,490"/>
<polygon fill="#FCA13F" points="1060,115 1090,110 1090,190 1060,160"/>
<g transform="translate(.5 .5)" fill="none" stroke="#000" stroke-width="8.8" stroke-linejoin="round" shape-rendering="crispEdges">
<polyline points="160,0 155,80 165,95 200,90 230,85 250,100 285,90 330,85 360,105 390,122 430,120 455,108 545,105"/>
<polyline points="250,100 255,480 245,560 242,816"/>
<polyline points="0,328 30,322 250,322"/>
<polyline points="255,485 675,483 1090,472"/>
<polyline points="548,0 548,210 575,190 600,200 635,205 650,215 655,185 680,180 700,190 720,165 745,170 770,185 800,165 815,175 830,140 835,110 850,90 880,88 905,103 1090,105"/>
<polyline points="820,0 815,160"/>
<polyline points="680,185 675,483 670,680 678,816"/>
</g>
</g></g>
</g>
<path d="M251.7 112.4 L315 117 L380 121.1 L472 125.6 L548 128.5 L640 130.8 L734 132.9 L884 135.25 L1020 137.4 L1020 137.88 L1042.5 137.5 L1046.88 141.25 L1051.25 145.62 L1055.62 146.88 L1056.25 151.25 L1061.25 151.88 L1064.38 156.25 L1070 158.12 L1076.25 157.75 L1076.88 153.12 L1082.5 152.5 L1087.5 153.12 L1088.12 157.5 L1090 161.88 L1093.75 163.12 L1094.38 167.5 L1090 168.12 L1088.12 170.62 L1093.75 171.88 L1095 175 L1093.75 178.75 L1088.12 178.75 L1085 175.62 L1083.12 178.75 L1083.75 184.38 L1078.75 186.88 L1075 190 L1073.75 195 L1074.38 199.38 L1071.88 201.88 L1068.12 201.88 L1066.88 206.25 L1069.38 210.62 L1073.75 213.75 L1075 218.75 L1080 221.88 L1083.75 223.75 L1086.88 227.5 L1088.75 231.25 L1093.75 230.62 L1094.38 234.38 L1091.88 236.25 L1091.88 242.5 L1095 246.25 L1100 249.38 L1101.25 255 L1105 258.75 L1108.75 259.38 L1110.62 263.75 L1115 264.38 L1117.5 261.88 L1121.25 263.75 L1123.12 266.25 L1128.75 265.62 L1129.38 268.75 L1127.75 271.25 L1127.5 300 L1128.5 362 L1131 508 L1132.4 596 L1060 596.8 L997 597 L872 595 L704 592.25 L536 587.9 L340 577.9 L220.5 571.4 Z" fill="none" stroke="#000" stroke-width="5" stroke-linejoin="round"/>
<circle cx="1092.5" cy="174.75" r="6" fill="#000"/>
<rect x="24.5" y="24.5" width="1296" height="768" fill="none" stroke="#000" stroke-width="1.1"/>
<text x="443.3" y="60" font-size="31.4" stroke="#000" stroke-width="0.3" textLength="446.2" lengthAdjust="spacing">Lowest Minimum Temperatures</text>
<text x="510.5" y="89.8" font-size="23.2" stroke="#000" stroke-width="0.25" textLength="310" lengthAdjust="spacing">October 1 - October 31, 2015</text>
<path d="M213.5 623 V633.5 H448.5 V623 M331.5 623 V633.5 M242.5 626.5 V633.5 M272.5 626.5 V633.5 M301.5 626.5 V633.5 M360.5 626.5 V633.5 M390.5 626.5 V633.5 M419.5 626.5 V633.5" fill="none" stroke="#000" stroke-width="1"/>
<text x="209.4" y="613.8" font-size="16" stroke="#000" stroke-width="0.15">0</text>
<text x="262" y="613.8" font-size="16" stroke="#000" stroke-width="0.15">25</text>
<text x="322" y="613.8" font-size="16" stroke="#000" stroke-width="0.15">50</text>
<text x="435.6" y="613.8" font-size="16" stroke="#000" stroke-width="0.15" textLength="68.8" lengthAdjust="spacing">100 Miles</text>
<text x="38" y="731.8" font-size="16.2" stroke="#000" stroke-width="0.15" textLength="273" lengthAdjust="spacing">Produced by Weather Data Library</text>
<text x="76" y="752.3" font-size="16.2" stroke="#000" stroke-width="0.15" textLength="197" lengthAdjust="spacing">Department of Agronomy</text>
<text x="81" y="773" font-size="16.2" stroke="#000" stroke-width="0.15" textLength="188" lengthAdjust="spacing">Kansas State University</text>
<text x="828.7" y="624" font-size="19.8" stroke="#000" stroke-width="0.1" font-weight="bold" textLength="353" lengthAdjust="spacing">Lowest Minimum Temperature (oF)</text>
<rect x="843" y="648.3" width="40" height="19.6" fill="#2892C7"/>
<text x="889.5" y="664.4" font-size="14.3" stroke="#000" stroke-width="0.12" textLength="45.5" lengthAdjust="spacing">21 - 24</text>
<rect x="843" y="675.2" width="40" height="19.6" fill="#73ACAD"/>
<text x="889.5" y="691.25" font-size="14.3" stroke="#000" stroke-width="0.12" textLength="45.5" lengthAdjust="spacing">24 - 27</text>
<rect x="843" y="702.1" width="40" height="19.6" fill="#ABC993"/>
<text x="889.5" y="718.1" font-size="14.3" stroke="#000" stroke-width="0.12" textLength="45.5" lengthAdjust="spacing">27 - 28</text>
<rect x="843" y="729" width="40" height="19.6" fill="#E3EB74"/>
<text x="889.5" y="744.95" font-size="14.3" stroke="#000" stroke-width="0.12" textLength="45.5" lengthAdjust="spacing">28 - 29</text>
<rect x="1011.2" y="648.3" width="40" height="19.6" fill="#FCDE56"/>
<text x="1057.9" y="664.4" font-size="14.3" stroke="#000" stroke-width="0.12" textLength="45.5" lengthAdjust="spacing">29 - 30</text>
<rect x="1011.2" y="675.2" width="40" height="19.6" fill="#FCA13F"/>
<text x="1057.9" y="691.25" font-size="14.3" stroke="#000" stroke-width="0.12" textLength="45.5" lengthAdjust="spacing">30 - 32</text>
<rect x="1011.2" y="702.1" width="40" height="19.6" fill="#F46425"/>
<text x="1057.9" y="718.1" font-size="14.3" stroke="#000" stroke-width="0.12" textLength="45.5" lengthAdjust="spacing">32 - 34</text>
<rect x="1011.2" y="729" width="40" height="19.6" fill="#E81514"/>
<text x="1057.9" y="744.95" font-size="14.3" stroke="#000" stroke-width="0.12" textLength="45.5" lengthAdjust="spacing">34 - 43</text>
</svg>
</body></html>
